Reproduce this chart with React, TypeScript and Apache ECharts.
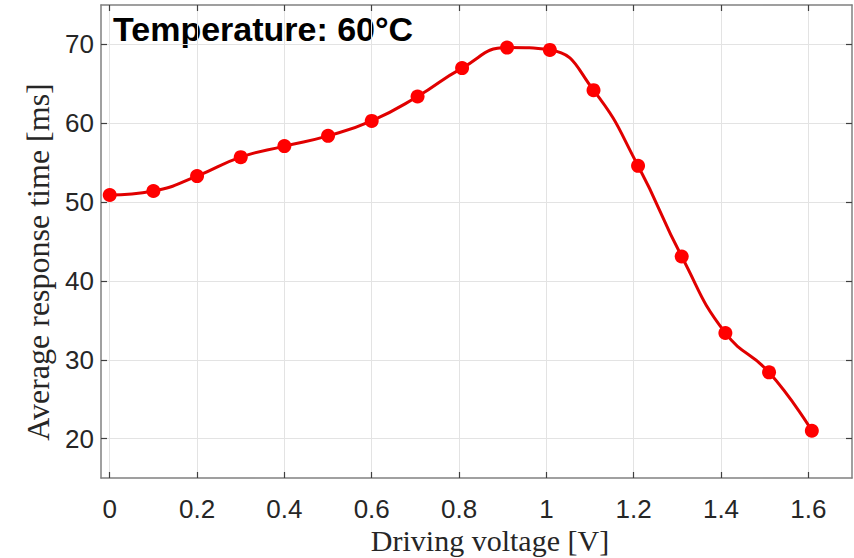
import React, { useEffect, useRef } from "react";
import * as echarts from "echarts";

const voltage = [0, 0.1, 0.2, 0.3, 0.4, 0.5, 0.6, 0.705, 0.807, 0.91, 1.008, 1.108, 1.21, 1.31, 1.41, 1.51, 1.608];
const responseTime = [50.9, 51.4, 53.3, 55.7, 57.1, 58.4, 60.3, 63.4, 67.0, 69.6, 69.3, 64.2, 54.6, 43.1, 33.4, 28.4, 21.0];
const xTicks = [0, 0.2, 0.4, 0.6, 0.8, 1, 1.2, 1.4, 1.6];
const yTicks = [20, 30, 40, 50, 60, 70];
const annotation = "Temperature: 60°C";
const xTitle = "Driving voltage [V]";
const yTitle = "Average response time [ms]";

export default function App() {
  const ref = useRef<HTMLDivElement>(null);
  useEffect(() => {
    if (!ref.current) return;
    const chart = echarts.init(ref.current, undefined, { renderer: "svg" });
    const axisLine = { show: true, onZero: false, lineStyle: { color: "#808080", width: 1.5 } };
    const tick = { show: true, inside: true, length: 6, lineStyle: { color: "#404040", width: 1.2 } };
    const split = { show: true, lineStyle: { color: "#e3e3e3", width: 1 } };
    const labelFont = { fontFamily: "Liberation Sans, Arial, sans-serif", fontSize: 26, color: "#262626" };
    chart.setOption({
      animation: false,
      backgroundColor: "#ffffff",
      grid: { left: 101, right: 2, top: 5, bottom: 80, containLabel: false },
      xAxis: [
        {
          type: "value", min: -0.02, max: 1.7, position: "bottom",
          axisLine, axisTick: { ...tick, customValues: xTicks }, splitLine: split,
          axisLabel: { ...labelFont, margin: 18, customValues: xTicks, formatter: (v: number) => String(Number(v.toFixed(1))) },
        },
        {
          type: "value", min: -0.02, max: 1.7, position: "top",
          axisLine, axisTick: { ...tick, customValues: xTicks }, splitLine: { show: false },
          axisLabel: { show: false, customValues: xTicks },
        },
      ],
      yAxis: [
        {
          type: "value", min: 15, max: 75, position: "left",
          axisLine, axisTick: { ...tick, customValues: yTicks }, splitLine: split,
          axisLabel: { ...labelFont, margin: 7, customValues: yTicks },
        },
        {
          type: "value", min: 15, max: 75, position: "right",
          axisLine, axisTick: { ...tick, customValues: yTicks }, splitLine: { show: false },
          axisLabel: { show: false, customValues: yTicks },
        },
      ],
      series: [
        {
          type: "line",
          data: voltage.map((v, i) => [v, responseTime[i]]),
          smooth: 0.5,
          symbol: "circle",
          symbolSize: 14,
          lineStyle: { color: "#e00000", width: 3 },
          itemStyle: { color: "#ff0000" },
          xAxisIndex: 0, yAxisIndex: 0,
        },
      ],
      graphic: [
        {
          type: "text", left: 113, top: 12,
          style: { text: annotation, fontFamily: "Arial, Liberation Sans, sans-serif", fontWeight: "bold", fontSize: 34, fill: "#000" },
        },
        {
          type: "text", x: 490, y: 540,
          style: { text: xTitle, fontFamily: "Liberation Serif, Times New Roman, serif", fontSize: 30, fill: "#262626", align: "center", verticalAlign: "middle" },
        },
        {
          type: "text", x: 38, y: 262, rotation: Math.PI / 2,
          style: { text: yTitle, fontFamily: "Liberation Serif, Times New Roman, serif", fontSize: 32, fill: "#262626", align: "center", verticalAlign: "middle" },
        },
      ],
    });
    return () => chart.dispose();
  }, []);
  return <div ref={ref} style={{ width: 854, height: 558, position: "absolute", left: 0, top: 0 }} />;
}
